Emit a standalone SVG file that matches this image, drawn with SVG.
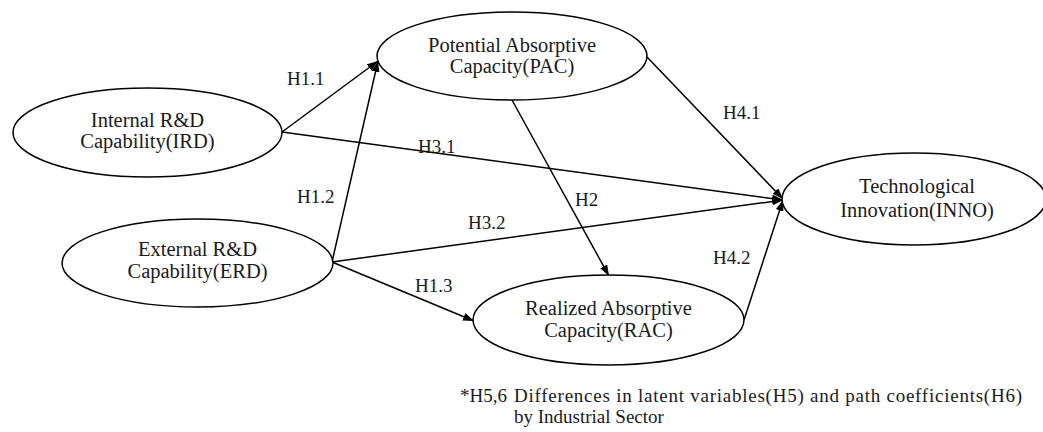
<svg xmlns="http://www.w3.org/2000/svg" width="1043" height="432" viewBox="0 0 1043 432">
<style>
.node ellipse{fill:#fff;stroke:#000;stroke-width:1.5}
text{font-family:"Liberation Serif","DejaVu Serif",serif;font-size:20.5px;fill:#1a1a1a}
.nt{text-anchor:middle}
.edges line{stroke:#000;stroke-width:1.5;marker-end:url(#ah)}
.lbl text{font-size:19px}
</style>
<defs>
<marker id="ah" markerUnits="userSpaceOnUse" markerWidth="12" markerHeight="8" refX="11" refY="4" orient="auto">
<path d="M0,0 L11,4 L0,8 z" fill="#000"/>
</marker>
</defs>
<rect width="1043" height="432" fill="#fff"/>
<g class="edges">
<line x1="282" y1="132" x2="378" y2="61"/>
<line x1="332" y1="262" x2="378" y2="61"/>
<line x1="282" y1="132" x2="783" y2="200"/>
<line x1="332" y1="262" x2="783" y2="200"/>
<line x1="332" y1="262" x2="474" y2="321"/>
<line x1="512" y1="100" x2="609" y2="276"/>
<line x1="647" y1="57" x2="783" y2="199"/>
<line x1="744" y1="320" x2="783" y2="200"/>
</g>
<g id="n-ird" class="node">
<ellipse cx="147.5" cy="132.5" rx="134.5" ry="44.5"/>
<text class="nt" x="147.5" y="127">Internal R&amp;D</text>
<text class="nt" x="147.5" y="148">Capability(IRD)</text>
</g>
<g id="n-erd" class="node">
<ellipse cx="197.5" cy="263" rx="135.5" ry="44"/>
<text class="nt" x="197.5" y="256">External R&amp;D</text>
<text class="nt" x="197.5" y="278">Capability(ERD)</text>
</g>
<g id="n-pac" class="node">
<ellipse cx="512" cy="56" rx="135" ry="44"/>
<text class="nt" x="512" y="52">Potential Absorptive</text>
<text class="nt" x="512" y="73">Capacity(PAC)</text>
</g>
<g id="n-rac" class="node">
<ellipse cx="608.5" cy="320" rx="135.5" ry="45"/>
<text class="nt" x="608.5" y="315">Realized Absorptive</text>
<text class="nt" x="608.5" y="337">Capacity(RAC)</text>
</g>
<g id="n-inno" class="node">
<ellipse cx="914" cy="199" rx="132" ry="46"/>
<text class="nt" x="917" y="193">Technological</text>
<text class="nt" x="917" y="217">Innovation(INNO)</text>
</g>
<g id="labels" class="lbl">
<text x="287" y="85">H1.1</text>
<text x="297" y="203">H1.2</text>
<text x="415" y="292">H1.3</text>
<text x="418" y="153">H3.1</text>
<text x="468" y="229">H3.2</text>
<text x="575" y="206">H2</text>
<text x="723" y="119">H4.1</text>
<text x="713" y="264">H4.2</text>
</g>
<g id="footnote" class="lbl">
<text x="460" y="402">*H5,6</text>
<text x="514" y="402" textLength="508" lengthAdjust="spacing">Differences in latent variables(H5) and path coefficients(H6)</text>
<text x="514" y="423">by Industrial Sector</text>
</g>
</svg>
